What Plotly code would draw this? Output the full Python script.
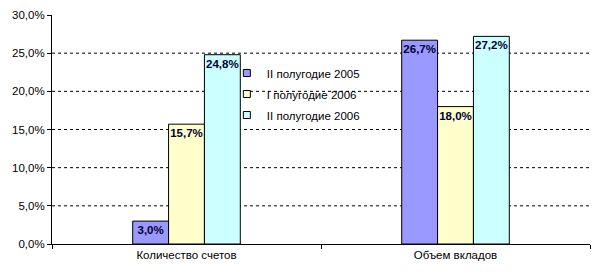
import plotly.graph_objects as go

categories = ["Количество счетов", "Объем вкладов"]
series_names = ["II полугодие 2005", "I полугодие 2006", "II полугодие 2006"]
values_h2_2005 = [0.030, 0.267]
values_h1_2006 = [0.157, 0.180]
values_h2_2006 = [0.248, 0.272]
colors = ["#9999FF", "#FFFFCC", "#CCFFFF"]
y_ticks = [0.0, 0.05, 0.10, 0.15, 0.20, 0.25, 0.30]
grid_vals = [0.05, 0.10, 0.15, 0.20, 0.25]

font_family = "Liberation Sans, Arial, sans-serif"

fig = go.Figure()
for name, vals, col in zip(series_names, [values_h2_2005, values_h1_2006, values_h2_2006], colors):
    fig.add_trace(go.Bar(
        x=categories, y=vals, name=name, showlegend=False,
        marker=dict(color=col, line=dict(color="black", width=1)),
        texttemplate="<b>%{y:.1%}</b>", textposition="inside", textangle=0,
        insidetextanchor="end", constraintext="none",
        textfont=dict(family=font_family, size=11.5, color="#000033"),
    ))
    # legend-only entry with small square symbol
    fig.add_trace(go.Scatter(
        x=[None], y=[None], mode="markers", name=name, legendgroup=name,
        marker=dict(symbol="square", size=7, color=col, line=dict(color="black", width=1)),
    ))

for g in grid_vals:
    fig.add_shape(type="line", xref="paper", x0=0, x1=1, yref="y", y0=g, y1=g,
                  line=dict(color="black", width=1, dash="3px,3px"), layer="below")

fig.update_layout(
    width=596, height=274,
    margin=dict(l=52, r=6, t=15, b=30),
    paper_bgcolor="white", plot_bgcolor="white",
    separators=", ",
    barmode="group", bargap=0.6, bargroupgap=0,
    font=dict(family=font_family, size=11, color="black"),
    showlegend=True,
    legend=dict(x=0.325, y=0.81, xanchor="left", yanchor="top",
                font=dict(size=11.5), bgcolor="rgba(0,0,0,0)",
                tracegroupgap=2, itemwidth=30),
    xaxis=dict(showline=True, linecolor="black", linewidth=1, ticks="outside",
               tickson="boundaries", ticklen=4, tickcolor="black",
               tickfont=dict(size=11.5), showgrid=False),
    yaxis=dict(range=[0, 0.3], tickvals=y_ticks, tickformat=".1%",
               showline=True, linecolor="black", linewidth=1,
               ticks="outside", ticklen=4, tickcolor="black",
               tickfont=dict(size=11.5), showgrid=False, zeroline=False),
)

fig.write_html("out.html")
